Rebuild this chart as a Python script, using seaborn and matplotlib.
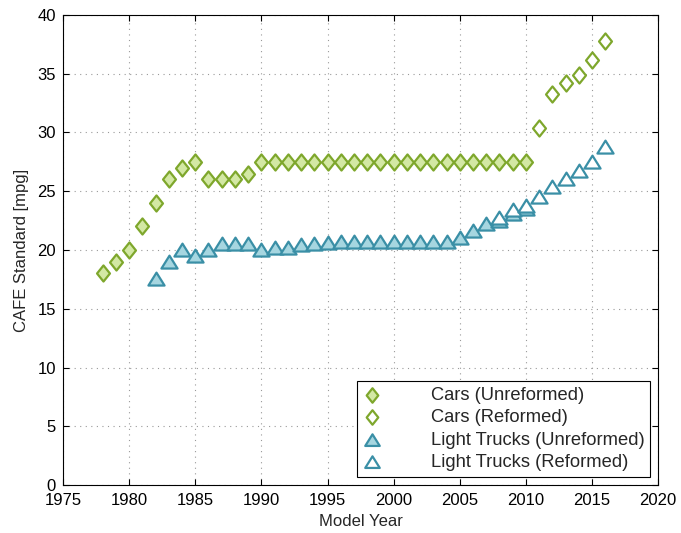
import matplotlib
matplotlib.use("Agg")
import matplotlib.pyplot as plt
from matplotlib.path import Path
import seaborn as sns
import pandas as pd

cars_unref_years = list(range(1978, 2011))
cars_unref_mpg = [18.0, 19.0, 20.0, 22.0, 24.0, 26.0, 27.0, 27.5, 26.0, 26.0, 26.0, 26.5,
                  27.5, 27.5, 27.5, 27.5, 27.5, 27.5, 27.5, 27.5, 27.5, 27.5, 27.5, 27.5,
                  27.5, 27.5, 27.5, 27.5, 27.5, 27.5, 27.5, 27.5, 27.5]
cars_ref_years = [2011, 2012, 2013, 2014, 2015, 2016]
cars_ref_mpg = [30.4, 33.3, 34.2, 34.9, 36.2, 37.8]

trucks_unref_years = list(range(1982, 2011))
trucks_unref_mpg = [17.5, 19.0, 20.0, 19.5, 20.0, 20.5, 20.5, 20.5, 20.0, 20.2, 20.2,
                    20.4, 20.5, 20.6, 20.7, 20.7, 20.7, 20.7, 20.7, 20.7, 20.7, 20.7,
                    20.7, 21.0, 21.6, 22.2, 22.5, 23.1, 23.5]
trucks_ref_years = [2008, 2009, 2010, 2011, 2012, 2013, 2014, 2015, 2016]
trucks_ref_mpg = [22.7, 23.4, 23.7, 24.5, 25.4, 26.0, 26.7, 27.5, 28.8]

labels = ["Cars (Unreformed)", "Cars (Reformed)",
          "Light Trucks (Unreformed)", "Light Trucks (Reformed)"]

sns.set_style("ticks")
plt.rcParams['font.family'] = ['Liberation Sans', 'DejaVu Sans']
plt.rcParams['xtick.direction'] = 'in'
plt.rcParams['ytick.direction'] = 'in'

diamond = Path([(0, 1), (0.8, 0), (0, -1), (-0.8, 0), (0, 1)],
               [Path.MOVETO, Path.LINETO, Path.LINETO, Path.LINETO, Path.CLOSEPOLY])
triangle = Path([(0, 0.85), (1, -0.75), (-1, -0.75), (0, 0.85)],
                [Path.MOVETO, Path.LINETO, Path.LINETO, Path.CLOSEPOLY])

green_edge = "#7ea72c"
green_fill = "#d3e8a4"
blue_edge = "#3a8fa6"
blue_fill = "#a6d6e0"

fig = plt.figure(figsize=(6.81, 5.33), dpi=100)
ax = fig.add_axes([0.0925, 0.09, 0.874, 0.882])

series = [
    (cars_unref_years, cars_unref_mpg, diamond, green_fill, green_edge, labels[0]),
    (cars_ref_years, cars_ref_mpg, diamond, "white", green_edge, labels[1]),
    (trucks_unref_years, trucks_unref_mpg, triangle, blue_fill, blue_edge, labels[2]),
    (trucks_ref_years, trucks_ref_mpg, triangle, "white", blue_edge, labels[3]),
]
for xs, ys, mk, fc, ec, lab in series:
    df = pd.DataFrame({"year": xs, "mpg": ys})
    sns.scatterplot(data=df, x="year", y="mpg", marker=mk, s=135, color=fc,
                    edgecolor=ec, linewidth=1.6, label=lab, ax=ax, zorder=3)

ax.set_xlim(1975, 2020)
ax.set_ylim(0, 40)
ax.set_xticks(range(1975, 2021, 5))
ax.set_yticks(range(0, 41, 5))
ax.tick_params(axis='both', which='both', top=True, right=True, labelsize=12,
               length=4, width=0.8, colors='black')
ax.tick_params(axis='x', pad=6)
ax.tick_params(axis='y', pad=5)
ax.grid(True, linestyle=(0, (1, 4)), color='#999999', linewidth=0.8)
for sp in ax.spines.values():
    sp.set_visible(True)
    sp.set_color('black')
    sp.set_linewidth(0.8)
ax.set_xlabel("Model Year", fontsize=12, labelpad=4)
ax.set_ylabel("CAFE Standard [mpg]", fontsize=12, labelpad=6)

leg = ax.legend(loc='lower right', fontsize=13.2, frameon=True, fancybox=False,
                edgecolor='black', framealpha=1, markerscale=0.9,
                borderaxespad=0.45, handlelength=1.0, handletextpad=2.7,
                labelspacing=0.3, borderpad=0.3)
leg.get_frame().set_linewidth(0.8)

fig.savefig("out.png", dpi=100)
